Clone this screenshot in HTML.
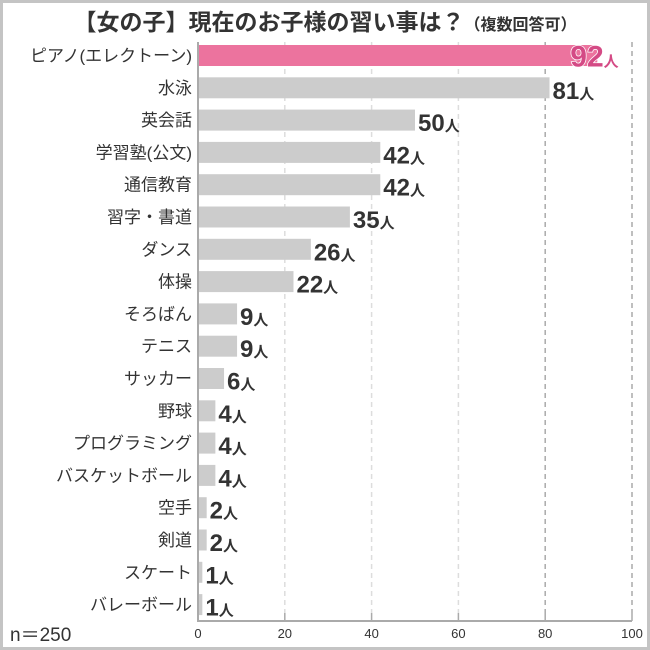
<!DOCTYPE html>
<html><head><meta charset="utf-8">
<style>
body{margin:0;background:#fff;}
#wrap{position:relative;width:650px;height:650px;box-sizing:border-box;border:3px solid #c4c4c4;background:#fff;font-family:"Liberation Sans","Noto Sans CJK JP",sans-serif;}
svg{position:absolute;left:-3px;top:-3px;}
</style></head>
<body>
<div id="wrap">
<svg id="chart" width="650" height="650">
<text x="325" y="30" text-anchor="middle" font-size="23" font-weight="bold" fill="#333" font-family="Liberation Sans, Noto Sans CJK JP, sans-serif">【女の子】現在のお子様の習い事は？<tspan font-size="16">（複数回答可）</tspan></text>
<text x="10" y="641" font-size="19" fill="#333" font-family="Liberation Sans, Noto Sans CJK JP, sans-serif">n＝250</text>
</svg>
</div>
<script>
const categories=["ピアノ(エレクトーン)","水泳","英会話","学習塾(公文)","通信教育","習字・書道","ダンス","体操","そろばん","テニス","サッカー","野球","プログラミング","バスケットボール","空手","剣道","スケート","バレーボール"];
const values=[92,81,50,42,42,35,26,22,9,9,6,4,4,4,2,2,1,1];
const ticks=[0,20,40,60,80,100];
const svg=document.getElementById('chart');
const NS='http://www.w3.org/2000/svg';
const x0=198,x1=632,yTop=42,yBot=621,row0=55.5,rowStep=32.3,barH=21;
const xs=v=>x0+(v-0)/(100-0)*(x1-x0);
const ys=i=>row0+i*rowStep;
const font='Liberation Sans, Noto Sans CJK JP, sans-serif';
function mk(t,a){const e=document.createElementNS(NS,t);for(const k in a)e.setAttribute(k,a[k]);svg.appendChild(e);return e;}
ticks.forEach((t,i)=>{
  if(t>0){
    const g=mk('line',{x1:xs(t),x2:xs(t),y1:yTop,y2:yBot-8,stroke:t>=80?'#aaa':'#ddd','stroke-width':1.5,'stroke-dasharray':'5,4'});
    
    
    const tk=mk('line',{x1:xs(t),x2:xs(t),y1:yBot-8,y2:yBot,stroke:'#aaa','stroke-width':1.5});
    
    
  }
  const l=mk('text',{x:xs(t),y:638,'text-anchor':'middle','font-size':13,fill:'#333','font-family':font});
  l.textContent=t;
  
  
});
categories.forEach((c,i)=>{
  const y=ys(i);
  const hi=i===0;
  const b=mk('rect',{x:x0,y:y-barH/2,width:xs(values[i])-x0,height:barH,fill:hi?'#ec739e':'#cccccc'});
  
  
  const l=mk('text',{x:192,y:y+6,'text-anchor':'end','font-size':17,fill:'#333','font-family':font});
  l.textContent=c;
  
  
  const vx=hi?xs(values[i])-27:xs(values[i])+3;
  const v=mk('text',{x:vx,y:y+11,'font-size':hi?30:24,'font-weight':'bold',fill:hi?'#d44a85':'#333','font-family':font,stroke:hi?'#fff':'none','stroke-width':hi?1.5:0,'paint-order':'stroke'});
  v.innerHTML=values[i]+'<tspan font-size="15" stroke="none">人</tspan>';
  
  
});
const ax=mk('path',{d:`M${x0},${yTop} V${yBot} H${x1}`,stroke:'#aaa','stroke-width':2,fill:'none'});


</script>
</body></html>
